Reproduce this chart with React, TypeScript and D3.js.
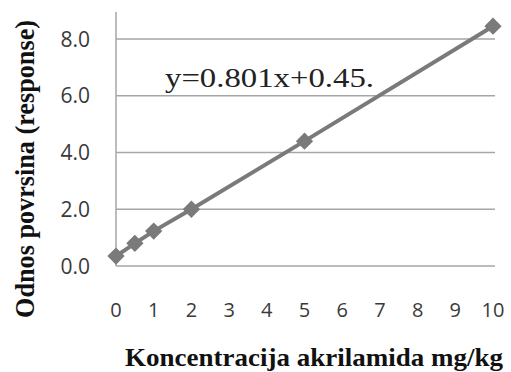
import * as d3 from 'd3';

const W = 511;
const H = 372;

// concentration (mg/kg) and measured response
const conc = [0, 0.5, 1, 2, 5, 10];
const response = [0.35, 0.8, 1.23, 2.0, 4.4, 8.45];
const yTicks = [0, 2, 4, 6, 8];
const xTicks = [0, 1, 2, 3, 4, 5, 6, 7, 8, 9, 10];

const SERIES = '#7a7a7a';
const GRID = '#a6a6a6';

export default function App() {
  const x = d3.scaleLinear().domain([0, 10]).range([116, 493]);
  const y = d3.scaleLinear().domain([0, 9]).range([266, 10.6]);
  const right = 495;

  const pts = conc.map((c, i) => [x(c), y(response[i])] as [number, number]);
  const line = d3.line()(pts) || '';
  const diamond = d3.symbol().type(d3.symbolDiamond2).size(190)() || '';

  return (
    <svg width={W} height={H} style={{ position: 'absolute', left: 0, top: 0, background: '#fff' }}>
      {/* grid */}
      {yTicks.filter(t => t > 0).map(t => (
        <line key={t} x1={x(0)} x2={right} y1={y(t)} y2={y(t)} stroke={GRID} strokeWidth={1.5} />
      ))}
      {/* axes */}
      <line x1={x(0)} x2={x(0)} y1={12} y2={y(0)} stroke={GRID} strokeWidth={1.5} />
      <line x1={x(0)} x2={right} y1={y(0)} y2={y(0)} stroke={GRID} strokeWidth={1.5} />

      {/* tick labels */}
      {yTicks.map(t => (
        <text key={t} x={90} y={y(t)} dy="0.36em" textAnchor="end"
          fontFamily="'Open Sans', sans-serif" fontSize={21} fill="#3a3a3a">
          {d3.format('.1f')(t)}
        </text>
      ))}
      {xTicks.map(t => (
        <text key={t} x={x(t)} y={317} textAnchor="middle"
          fontFamily="'Open Sans', sans-serif" fontSize={20} fill="#3a3a3a">
          {t}
        </text>
      ))}

      {/* series */}
      <path d={line} fill="none" stroke={SERIES} strokeWidth={4} />
      {pts.map((p, i) => (
        <path key={i} d={diamond} transform={`translate(${p[0]},${p[1]})`} fill={SERIES} />
      ))}

      {/* equation */}
      <text x={165} y={87} fontFamily="'Liberation Serif', serif" fontSize={28} fill="#222"
        textLength={209} lengthAdjust="spacingAndGlyphs">
        y=0.801x+0.45.
      </text>

      {/* axis titles */}
      <text transform="translate(34,169) rotate(-90)" textAnchor="middle"
        fontFamily="'Liberation Serif', serif" fontWeight="bold" fontSize={28} fill="#111"
        textLength={298} lengthAdjust="spacingAndGlyphs">
        Odnos povrsina (response)
      </text>
      <text x={125} y={366} fontFamily="'Liberation Serif', serif" fontWeight="bold" fontSize={26} fill="#111"
        textLength={378} lengthAdjust="spacingAndGlyphs">
        Koncentracija akrilamida mg/kg
      </text>
    </svg>
  );
}
